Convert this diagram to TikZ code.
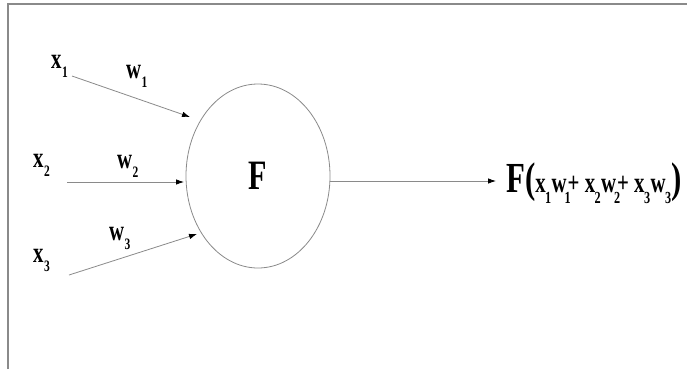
\documentclass[tikz,border=0pt]{standalone}
\usepackage{fontspec}
\setmainfont[FakeStretch=0.72]{Liberation Serif}
\usetikzlibrary{arrows.meta,shapes.geometric}
\definecolor{linegray}{HTML}{8A8A8A}
\newcommand\lblsub[1]{\kern0.5bp\raisebox{-9bp}{\fontsize{16}{16}\selectfont #1}}
\newcommand\fsub[1]{\kern-0.5bp\raisebox{-11bp}{\fontsize{17}{17}\selectfont #1}\kern0.3bp}
\newcommand\wsub[1]{\kern-2bp\raisebox{-11bp}{\fontsize{17}{17}\selectfont #1}\kern-3bp}
\tikzset{
  conn/.style={draw=linegray, line width=0.8bp, -{Latex[length=8bp,width=5.5bp,color=black]}},
  lbl/.style={anchor=base west, inner sep=0pt, font=\bfseries\fontsize{29}{29}\selectfont},
  neuron/.style={ellipse, draw=linegray, line width=0.8bp, minimum width=144bp, minimum height=184bp, inner sep=0pt, font=\bfseries\fontsize{42}{42}\selectfont},
  frame/.style={draw=linegray, line width=1.5bp}
}
\begin{document}
\begin{tikzpicture}[x=1bp,y=-1bp]
\useasboundingbox (0,0) rectangle (687,369);
\draw[frame] (8,369) -- (8,4) -- (687,4);
% neuron
\node[neuron] (F) at (258,176) {F};
% input labels
\node[lbl] (x1) at (51,68) {x\lblsub{1}};
\node[lbl] (w1) at (126,78) {w\lblsub{1}};
\node[lbl] (x2) at (33,167) {x\lblsub{2}};
\node[lbl] (w2) at (117,168) {w\lblsub{2}};
\node[lbl] (x3) at (33,262) {x\lblsub{3}};
\node[lbl] (w3) at (109,240) {w\lblsub{3}};
% connector ends
\coordinate (s1) at (72,76);
\coordinate (e1) at (190,117);
\coordinate (s2) at (67,182);
\coordinate (e2) at (184,182);
\coordinate (s3) at (69,275);
\coordinate (e3) at (197,234);
\coordinate (so) at (330,181);
\coordinate (eo) at (496,181);
\draw[conn] (s1) -- (e1);
\draw[conn] (s2) -- (e2);
\draw[conn] (s3) -- (e3);
\draw[conn] (so) -- (eo);
% output formula
\node[anchor=base west, inner sep=0pt, font=\bfseries] (out) at (506,192)
  {{\fontsize{43}{43}\selectfont F(}{\fontsize{29}{29}\selectfont x\fsub{1}w\wsub{1}+ x\fsub{2}w\wsub{2}+ x\fsub{3}w\fsub{3}}{\fontsize{43}{43}\selectfont )}};
\end{tikzpicture}
\end{document}
